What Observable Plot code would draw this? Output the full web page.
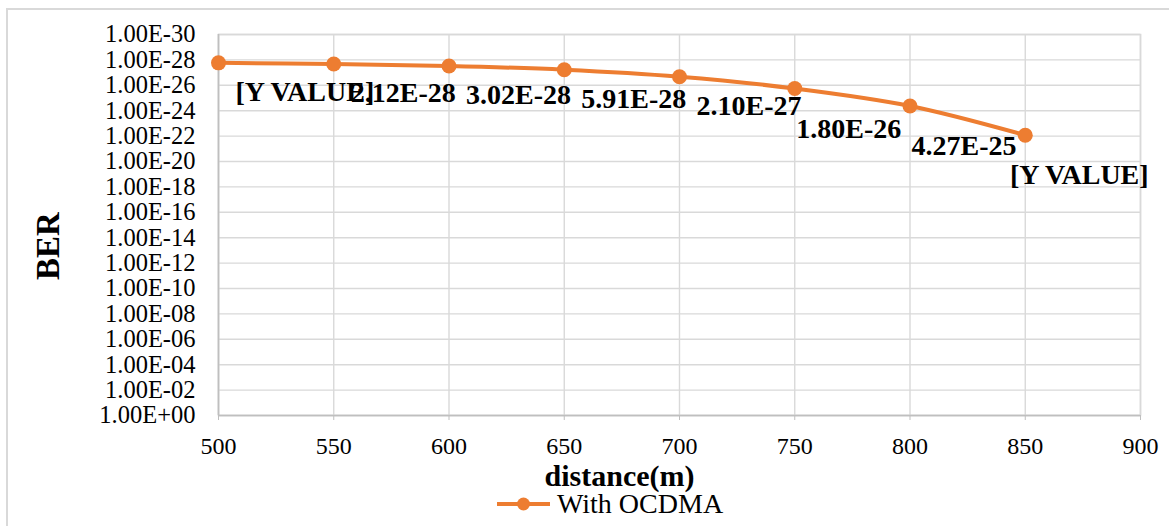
<!DOCTYPE html>
<html><head><meta charset="utf-8">
<script src="https://cdn.jsdelivr.net/npm/d3@7"></script>
<script src="https://cdn.jsdelivr.net/npm/@observablehq/plot@0.6"></script>
<style>
html,body{margin:0;padding:0;background:#fff;}
#wrap{position:relative;width:1169px;height:526px;overflow:hidden;font-family:"Liberation Serif","Times New Roman",serif;}
#border{position:absolute;left:6px;top:8px;right:-10px;bottom:-10px;border-top:2px solid #d9d9d9;border-left:2px solid #d9d9d9;pointer-events:none;}
#legend{position:absolute;left:497px;top:489px;height:30px;display:flex;align-items:center;font-size:28px;color:#000;white-space:nowrap;}
#legend span{margin-left:7px;}
</style></head><body>
<div id="wrap"><div id="chart"></div><div id="legend"></div><div id="border"></div></div>
<script>
// ---- data ----
const distances = [500, 550, 600, 650, 700, 750, 800, 850];
const ber = [1.7e-28, 2.12e-28, 3.02e-28, 5.91e-28, 2.10e-27, 1.80e-26, 4.27e-25, 8.5e-23];
const pointLabels = ["[Y VALUE]", "2.12E-28", "3.02E-28", "5.91E-28", "2.10E-27", "1.80E-26", "4.27E-25", "[Y VALUE]"];
const seriesName = "With OCDMA";
const xTicks = [500, 550, 600, 650, 700, 750, 800, 850, 900];
const yTicks = [1e-30, 1e-28, 1e-26, 1e-24, 1e-22, 1e-20, 1e-18, 1e-16, 1e-14, 1e-12, 1e-10, 1e-8, 1e-6, 1e-4, 1e-2, 1];
const yTickLabels = ["1.00E-30", "1.00E-28", "1.00E-26", "1.00E-24", "1.00E-22", "1.00E-20", "1.00E-18", "1.00E-16", "1.00E-14", "1.00E-12", "1.00E-10", "1.00E-08", "1.00E-06", "1.00E-04", "1.00E-02", "1.00E+00"];
const xTitle = "distance(m)";
const yTitle = "BER";

const ORANGE = "#ED7D31";
const data = distances.map((d, i) => ({distance: d, ber: ber[i], label: pointLabels[i]}));
const fmt = new Map(yTicks.map((t, i) => [t, yTickLabels[i]]));
const labelStyle = {x: "distance", y: "ber", text: "label", fontSize: 28, fontWeight: "bold", fill: "#000"};

const chart = Plot.plot({
  width: 1169, height: 489,
  marginLeft: 218, marginRight: 29, marginTop: 34, marginBottom: 74,
  style: {fontFamily: '"Liberation Serif", "Times New Roman", serif', background: "#fff", color: "#000", overflow: "visible"},
  x: {domain: [500, 900]},
  y: {type: "log", domain: [1, 1e-30]},
  marks: [
    Plot.gridX(xTicks, {stroke: "#d9d9d9", strokeOpacity: 1, strokeWidth: 1.4}),
    Plot.gridY(yTicks, {stroke: "#d9d9d9", strokeOpacity: 1, strokeWidth: 1.4}),
    Plot.frame({stroke: "#d9d9d9", strokeWidth: 1.6}),
    Plot.ruleY([1], {stroke: "#bfbfbf", strokeWidth: 1.6}),
    Plot.ruleX([500], {stroke: "#bfbfbf", strokeWidth: 1.6}),
    Plot.axisX(xTicks, {tickSize: 5, tickPadding: 16, stroke: "#bfbfbf", fill: "#000", fontSize: 24, label: null}),
    Plot.axisY(yTicks, {tickSize: 0, tickPadding: 23, fill: "#000", fontSize: 24.5, label: null, tickFormat: d => fmt.get(d)}),
    Plot.line(data, {x: "distance", y: "ber", stroke: ORANGE, strokeWidth: 4, curve: "catmull-rom"}),
    Plot.dot(data, {x: "distance", y: "ber", r: 7.5, fill: ORANGE, stroke: null}),
    Plot.text(data.filter(d => d.distance < 750), {...labelStyle, textAnchor: "start", dx: 17, dy: 29}),
    Plot.text(data.filter(d => d.distance >= 750), {...labelStyle, textAnchor: "middle", dx: 54, dy: 40}),
    Plot.text([xTitle], {frameAnchor: "bottom", textAnchor: "middle", dx: -60, dy: 70, fontSize: 30, fontWeight: "bold", fill: "#000"}),
    Plot.text([yTitle], {frameAnchor: "left", textAnchor: "middle", lineAnchor: "middle", rotate: -90, dx: -170, dy: 21, fontSize: 33, fontWeight: "bold", fill: "#000"})
  ]
});
document.getElementById("chart").appendChild(chart);

const legend = document.getElementById("legend");
legend.innerHTML = `<svg width="53" height="20"><line x1="0" x2="53" y1="10" y2="10" stroke="${ORANGE}" stroke-width="4"/><circle cx="26.5" cy="10" r="6.5" fill="${ORANGE}"/></svg><span>${seriesName}</span>`;
</script>
</body></html>
